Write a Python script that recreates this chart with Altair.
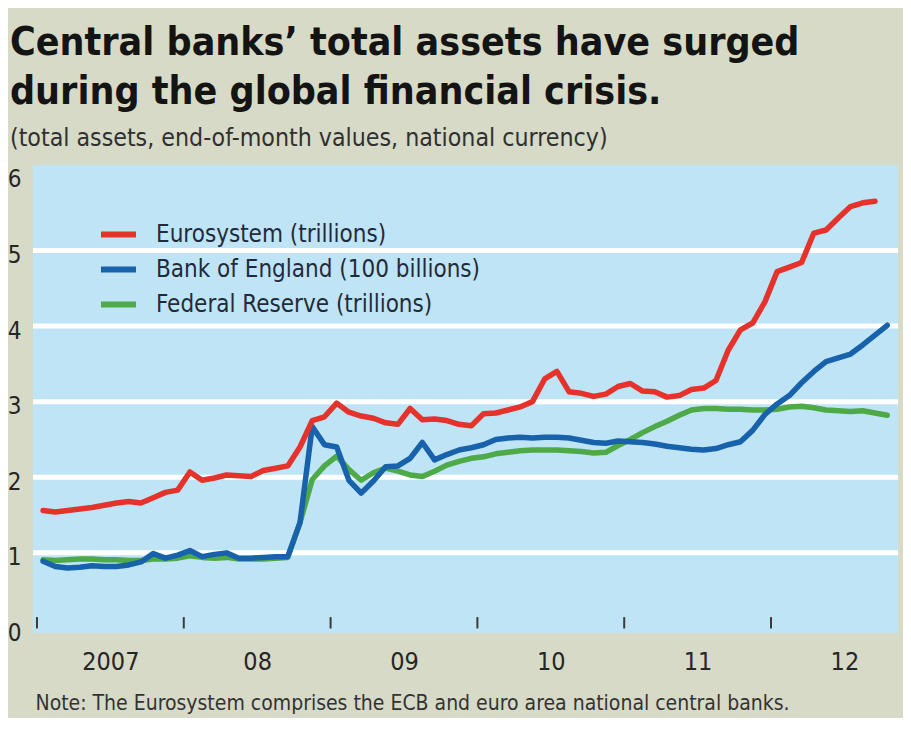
import altair as alt
import pandas as pd

# ---------------- data ----------------
series_names = ["Eurosystem (trillions)", "Bank of England (100 billions)", "Federal Reserve (trillions)"]
series_colors = ["#e5322b", "#1762ab", "#4daa47"]

# end-of-month values, starting January 2007
eurosystem = [1.56, 1.54, 1.56, 1.58, 1.60, 1.63, 1.66, 1.68, 1.66, 1.73, 1.80, 1.83,
              2.07, 1.96, 1.99, 2.03, 2.02, 2.01, 2.09, 2.12, 2.15, 2.40, 2.75, 2.80,
              2.98, 2.86, 2.81, 2.78, 2.72, 2.70, 2.91, 2.76, 2.77, 2.75, 2.70, 2.68,
              2.84, 2.85, 2.89, 2.93, 3.00, 3.30, 3.40, 3.13, 3.11, 3.07, 3.10, 3.20,
              3.24, 3.14, 3.13, 3.06, 3.08, 3.16, 3.18, 3.28, 3.68, 3.95, 4.04, 4.32,
              4.72, 4.78, 4.84, 5.23, 5.27, 5.43, 5.58, 5.63, 5.65]
bank_of_england = [0.89, 0.82, 0.80, 0.81, 0.83, 0.82, 0.82, 0.84, 0.88, 0.99, 0.93, 0.97,
                   1.03, 0.95, 0.98, 1.00, 0.93, 0.93, 0.94, 0.95, 0.95, 1.40, 2.67, 2.43,
                   2.40, 1.96, 1.79, 1.95, 2.14, 2.15, 2.25, 2.46, 2.23, 2.30, 2.36, 2.39,
                   2.43, 2.50, 2.52, 2.53, 2.52, 2.53, 2.53, 2.52, 2.49, 2.46, 2.45, 2.48,
                   2.47, 2.46, 2.44, 2.41, 2.39, 2.37, 2.36, 2.38, 2.43, 2.47, 2.62, 2.83,
                   2.97, 3.08, 3.25, 3.40, 3.53, 3.58, 3.63, 3.75, 3.88, 4.01]
federal_reserve = [0.91, 0.90, 0.91, 0.92, 0.92, 0.91, 0.91, 0.90, 0.90, 0.92, 0.92, 0.93,
                   0.96, 0.94, 0.93, 0.94, 0.92, 0.92, 0.92, 0.93, 0.94, 1.40, 1.97, 2.15,
                   2.28, 2.10, 1.96, 2.06, 2.12, 2.08, 2.03, 2.01, 2.08, 2.16, 2.21, 2.25,
                   2.27, 2.31, 2.33, 2.35, 2.36, 2.36, 2.36, 2.35, 2.34, 2.32, 2.33, 2.42,
                   2.50, 2.59, 2.67, 2.74, 2.82, 2.89, 2.91, 2.91, 2.90, 2.90, 2.89, 2.89,
                   2.90, 2.93, 2.94, 2.92, 2.89, 2.88, 2.87, 2.88, 2.85, 2.82]

year_ticks = [2007, 2008, 2009, 2010, 2011, 2012]
year_labels = ["2007", "08", "09", "10", "11", "12"]
y_labels = [0, 1, 2, 3, 4, 5, 6]
grid_values = [1, 2, 3, 4, 5]

title_lines = ["Central banks\u2019 total assets have surged", "during the global financial crisis."]
subtitle = "(total assets, end-of-month values, national currency)"
note = "Note: The Eurosystem comprises the ECB and euro area national central banks."

# ---------------- tables ----------------
def frame(name, values):
    months = pd.period_range("2007-01", periods=len(values), freq="M")
    return pd.DataFrame({
        "t": [p.year + (p.month - 0.5) / 12 for p in months],
        "value": values,
        "series": name,
    })

lines_df = pd.concat([
    frame(series_names[2], federal_reserve),
    frame(series_names[1], bank_of_england),
    frame(series_names[0], eurosystem),
], ignore_index=True)
grid_df = pd.DataFrame({"g": grid_values})
ticks_df = pd.DataFrame({"year": year_ticks})

FONT = "DejaVu Sans Condensed, Liberation Sans Narrow, sans-serif"

label_expr = " : ".join(
    f"datum.value < {y + 1} ? '{lab}'" for y, lab in zip(year_ticks, year_labels)
) + " : ''"

x_scale = alt.Scale(domain=[2006.973, 2012.865], nice=False, zero=False)
y_scale = alt.Scale(domain=[-0.06, 6.13], nice=False, zero=False)

x_axis = alt.Axis(
    values=[y + 0.5 for y in year_ticks], labelExpr=label_expr,
    grid=False, domain=False, ticks=False,
    labelFontSize=25, labelColor="#262626", labelPadding=16, labelFont=FONT,
    title=note, titleFont=FONT, titleFontSize=21, titleFontWeight="normal",
    titleColor="#333333", titleAlign="left", titleAnchor="start",
    titleX=2, titleY=70, titleBaseline="middle")

y_axis = alt.Axis(
    values=y_labels, grid=False, domain=False, ticks=False, title=None,
    labelFontSize=24, labelColor="#262626", labelPadding=12, labelFont=FONT,
    labelBaseline="middle", labelOffset=5)

grid = alt.Chart(grid_df).mark_rule(color="white", strokeWidth=5).encode(
    y=alt.Y("g:Q", scale=y_scale, axis=y_axis),
)

ticks = alt.Chart(ticks_df).mark_rule(color="#3a3a3a", strokeWidth=2).encode(
    x=alt.X("year:Q", scale=x_scale, axis=x_axis),
    y=alt.datum(0.0, scale=y_scale, axis=y_axis),
    y2=alt.datum(0.15),
)

lines = alt.Chart(lines_df).mark_line(strokeWidth=5.5, strokeCap="round", strokeJoin="round").encode(
    x=alt.X("t:Q", scale=x_scale, axis=x_axis),
    y=alt.Y("value:Q", scale=y_scale, axis=y_axis),
    color=alt.Color("series:N", scale=alt.Scale(domain=series_names, range=series_colors),
                    legend=alt.Legend(
                        title=None, orient="none", legendX=65, legendY=49,
                        symbolType="stroke", symbolSize=1225, symbolStrokeWidth=6,
                        labelFontSize=24, labelColor="#1f2b3b", labelFont=FONT,
                        labelLimit=0, labelOffset=17, rowPadding=2, padding=0)),
    order=alt.Order("series:N"),
)

chart = alt.layer(grid, ticks, lines).properties(
    width=865,
    height=468,
    padding={"left": 25, "top": 157, "right": 5, "bottom": 85},
    autosize=alt.AutoSizeParams(type="none"),
    title=alt.TitleParams(
        text=title_lines, subtitle=subtitle, anchor="start", frame="group",
        font=FONT, fontSize=39, fontWeight="bold", color="#141414", lineHeight=49,
        subtitleFont=FONT, subtitleFontSize=24.7, subtitleColor="#303030",
        subtitlePadding=14, offset=14, dx=-23),
).configure(
    background="#d6dac7",
    font=FONT,
).configure_view(
    fill="#bfe4f6", strokeWidth=0,
)

chart.save("out.html", embed_options={"renderer": "svg", "actions": False})
